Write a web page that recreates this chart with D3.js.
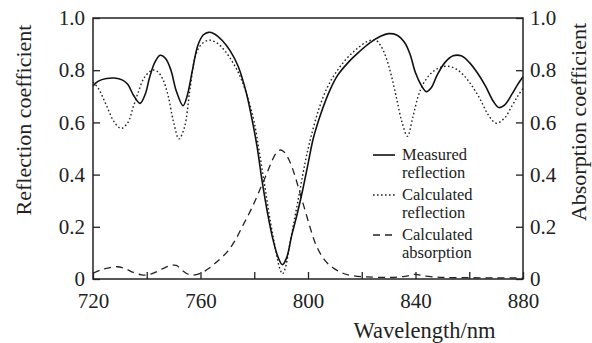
<!DOCTYPE html>
<html>
<head>
<meta charset="utf-8">
<script src="https://cdn.jsdelivr.net/npm/d3@7"></script>
<style>
  body { margin: 0; background: #fff; }
  svg text { font-family: "Liberation Serif", "Tinos", "Times New Roman", "DejaVu Serif", serif; fill: #222; }
  .frame { fill: none; stroke: #222; stroke-width: 1.5; }
  .axis path { display: none; }
  .axis line { stroke: #222; stroke-width: 1.3; }
  .axis text { font-size: 21px; }
  .measured { fill: none; stroke: #111; stroke-width: 1.6; }
  .calculated { fill: none; stroke: #222; stroke-width: 1.4; stroke-dasharray: 1.6, 2.4; }
  .absorption { fill: none; stroke: #222; stroke-width: 1.3; stroke-dasharray: 7, 5; }
  .label { font-size: 22px; }
  .legend text { font-size: 16.5px; }
</style>
</head>
<body>
<script>
// wavelength (nm) / value pairs
var measWl = [720, 722, 725, 728, 731, 733, 735, 737.5, 739.5, 741, 743, 745, 747, 749, 751, 753.5, 755, 757, 759, 761, 763, 765, 768, 771, 774, 777, 779, 781, 783, 785, 787, 789, 790.5, 792, 794, 796, 798, 800, 802, 805, 808, 811, 815, 819, 823, 827, 830, 833, 836, 838, 840, 842, 844, 846, 848, 851, 854, 857, 860, 863, 866, 869, 871, 873, 876, 878, 880];
var measR  = [0.74, 0.758, 0.768, 0.77, 0.762, 0.745, 0.705, 0.673, 0.71, 0.77, 0.83, 0.857, 0.845, 0.80, 0.72, 0.664, 0.70, 0.80, 0.895, 0.935, 0.945, 0.94, 0.915, 0.875, 0.815, 0.715, 0.62, 0.51, 0.37, 0.25, 0.15, 0.08, 0.055, 0.08, 0.17, 0.25, 0.34, 0.44, 0.54, 0.64, 0.72, 0.78, 0.83, 0.87, 0.905, 0.93, 0.94, 0.935, 0.905, 0.86, 0.79, 0.745, 0.718, 0.735, 0.78, 0.83, 0.855, 0.855, 0.83, 0.79, 0.74, 0.68, 0.657, 0.665, 0.71, 0.745, 0.775];

var calcWl = [720, 722, 725, 728, 730.5, 733, 735, 737, 739, 742, 744, 746, 748, 750, 752, 754, 756, 758, 760, 763, 766, 769, 772, 775, 778, 780, 782, 784, 786, 788, 789.5, 790.5, 791.5, 793, 795, 797, 799, 801, 804, 807, 810, 814, 818, 822, 825, 827, 829, 831, 833, 835, 837, 839, 841, 843, 846, 849, 852, 855, 858, 861, 864, 867, 870, 873, 876, 878, 880];
var calcR  = [0.755, 0.73, 0.665, 0.60, 0.577, 0.60, 0.66, 0.72, 0.77, 0.80, 0.795, 0.765, 0.70, 0.60, 0.537, 0.58, 0.72, 0.85, 0.895, 0.915, 0.905, 0.875, 0.83, 0.77, 0.68, 0.60, 0.48, 0.35, 0.22, 0.11, 0.04, 0.02, 0.04, 0.12, 0.23, 0.34, 0.45, 0.54, 0.65, 0.73, 0.785, 0.84, 0.88, 0.91, 0.916, 0.895, 0.85, 0.78, 0.69, 0.60, 0.547, 0.62, 0.70, 0.75, 0.79, 0.81, 0.815, 0.805, 0.78, 0.74, 0.69, 0.63, 0.597, 0.615, 0.665, 0.70, 0.73];

var absWl = [720, 723, 726, 729, 732, 735, 738, 740, 743, 746, 749, 751, 753, 755, 757, 760, 763, 766, 770, 773, 776, 779, 782, 784.5, 786.5, 788, 789.5, 791, 793, 795, 797, 799, 801, 803, 806, 809, 813, 817, 822, 830, 836, 840, 843, 850, 860, 870, 880];
var absA  = [0.022, 0.035, 0.043, 0.047, 0.04, 0.025, 0.016, 0.015, 0.025, 0.04, 0.052, 0.052, 0.035, 0.02, 0.015, 0.022, 0.04, 0.065, 0.105, 0.15, 0.21, 0.27, 0.34, 0.40, 0.45, 0.48, 0.494, 0.488, 0.455, 0.40, 0.33, 0.26, 0.19, 0.13, 0.075, 0.045, 0.022, 0.012, 0.008, 0.006, 0.01, 0.018, 0.012, 0.006, 0.005, 0.004, 0.004];

var xTicks = [720, 740, 760, 780, 800, 820, 840, 860, 880];
var xLabels = [720, 760, 800, 840, 880];
var yTicks = [0, 0.2, 0.4, 0.6, 0.8, 1.0];

var legendNames = [["Measured", "reflection"], ["Calculated", "reflection"], ["Calculated", "absorption"]];
var legendClass = ["measured", "calculated", "absorption"];

var margin = {top: 18, right: 69, bottom: 64, left: 93},
    width = 592 - margin.left - margin.right,
    height = 343 - margin.top - margin.bottom;

var svg = d3.select("body").append("svg")
    .attr("width", 592)
    .attr("height", 343)
  .append("g")
    .attr("transform", "translate(" + margin.left + "," + margin.top + ")");

var x = d3.scaleLinear().domain([720, 880]).range([0, width]);
var y = d3.scaleLinear().domain([0, 1]).range([height, 0]);

function zip(a, b) {
  return a.map(function(d, i) { return {w: d, v: b[i]}; });
}

var line = d3.line()
    .curve(d3.curveCatmullRom.alpha(0.5))
    .x(function(d) { return x(d.w); })
    .y(function(d) { return y(d.v); });

svg.append("path").datum(zip(absWl, absA)).attr("class", "absorption").attr("d", line);
svg.append("path").datum(zip(calcWl, calcR)).attr("class", "calculated").attr("d", line);
svg.append("path").datum(zip(measWl, measR)).attr("class", "measured").attr("d", line);

// ticks point inward
var fmt = function(d) { return d === 0 ? "0" : d3.format(".1f")(d); };

svg.append("g")
    .attr("class", "axis")
    .attr("transform", "translate(0," + height + ")")
    .call(d3.axisBottom(x).tickValues(xTicks).tickSizeInner(-7).tickSizeOuter(0).tickPadding(14)
      .tickFormat(function(d) { return xLabels.indexOf(d) >= 0 ? d : ""; }));

svg.append("g")
    .attr("class", "axis")
    .call(d3.axisLeft(y).tickValues(yTicks).tickSizeInner(-7).tickSizeOuter(0).tickPadding(8).tickFormat(fmt));

svg.append("g")
    .attr("class", "axis")
    .attr("transform", "translate(" + width + ",0)")
    .call(d3.axisRight(y).tickValues(yTicks).tickSizeInner(-7).tickSizeOuter(0).tickPadding(7).tickFormat(fmt));

svg.append("rect")
    .attr("class", "frame")
    .attr("width", width)
    .attr("height", height);

svg.append("text")
    .attr("class", "label")
    .attr("transform", "translate(-62,102) rotate(-90)")
    .attr("text-anchor", "middle")
    .text("Reflection coefficient");

svg.append("text")
    .attr("class", "label")
    .attr("transform", "translate(" + (width + 63) + ",104) rotate(-90)")
    .attr("text-anchor", "middle")
    .text("Absorption coefficient");

svg.append("text")
    .attr("class", "label")
    .attr("x", x(840) + 9)
    .attr("y", height + 59)
    .attr("text-anchor", "middle")
    .style("font-size", "22.5px")
    .text("Wavelength/nm");

// legend
var legend = svg.append("g")
    .attr("class", "legend")
    .attr("transform", "translate(280,142)");

var item = legend.selectAll("g")
    .data(legendNames)
  .enter().append("g")
    .attr("transform", function(d, i) { return "translate(0," + (i * 40) + ")"; });

item.append("line")
    .attr("class", function(d, i) { return legendClass[i]; })
    .attr("x1", 0).attr("x2", 22)
    .attr("y1", -5).attr("y2", -5);

item.append("text")
    .attr("x", 29)
    .attr("y", 0)
    .text(function(d) { return d[0]; });

item.append("text")
    .attr("x", 29)
    .attr("y", 18)
    .text(function(d) { return d[1]; });
</script>
</body>
</html>
